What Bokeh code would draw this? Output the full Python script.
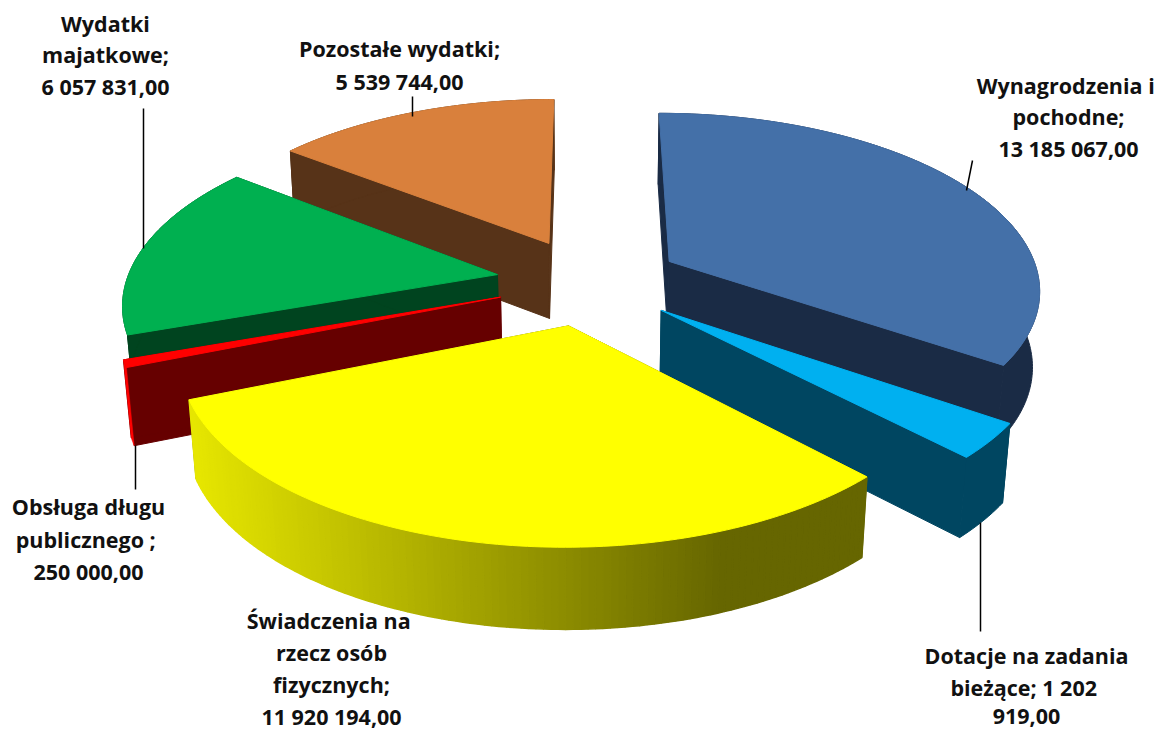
import math
from bokeh.plotting import figure
from bokeh.models import Range1d
from bokeh.core.properties import value
from bokeh.embed import file_html
from bokeh.resources import INLINE

categories = ["Wynagrodzenia i pochodne", "Dotacje na zadania bieżące",
              "Świadczenia na rzecz osób fizycznych", "Obsługa długu publicznego",
              "Wydatki majatkowe", "Pozostałe wydatki"]
amounts = [13185067.00, 1202919.00, 11920194.00, 250000.00, 6057831.00, 5539744.00]
top_colors = ["#4470A8", "#00B0F0", "#FFFF00", "#FF0000", "#00B050", "#D9803C"]
wall_colors = ["#1A2B45", "#004661", "#666600", "#660000", "#00441F", "#573318"]
rim_colors = ["#1A2B45", "#004661", None, "#FF0000", "#00441F", "#573318"]
label_lines = [["Wynagrodzenia  i", "pochodne;", "13 185 067,00"],
               ["Dotacje na zadania", "bieżące;  1 202", "919,00"],
               ["Świadczenia  na", "rzecz osób", "fizycznych;", "11 920 194,00"],
               ["Obsługa długu", "publicznego  ;", "250 000,00"],
               ["Wydatki", "majatkowe;", "6 057 831,00"],
               ["Pozostałe wydatki;", "5 539 744,00"]]
label_x = [1068, 1026, 331, 88, 105, 399]
label_y = [[85, 116, 148], [655, 687, 716], [620, 652, 684, 716], [506, 539, 571], [23, 54, 86], [48, 81]]
leader_x0 = [972, 980, None, 135, 143, 412]
leader_y0 = [160, 522, None, 445, 108, 96]
leader_x1 = [966, 980, None, 135, 143, 412]
leader_y1 = [190, 631, None, 489, 248, 116]

CX, CY, RX, RY, PERSP, PERSP_DEPTH, EXPLODE, DEPTH, SHRINK = 588.0, 281.0, 371.0, 175.0, 0.145, 0.06, 0.25, 76.0, 0.016
DRAW_ORDER = [5, 4, 0, 3, 1, 2]


def project(px, pz, drop=0.0):
    w = 1 + PERSP * pz
    return (CX + RX * px / (w + SHRINK * drop),
            CY - RY * pz / w + drop * DEPTH / (1 + PERSP_DEPTH * pz))


def lerp_yellow(x):
    t = min(1.0, max(0.0, (x - 195) / 525))
    c = round(0xE6 + (0x66 - 0xE6) * t)
    return f"#{c:02X}{c:02X}00"


total = sum(amounts)
xs, ys, colors, widths = [], [], [], []


def add(poly, color, lw=1.0):
    xs.append([q[0] for q in poly])
    ys.append([q[1] for q in poly])
    colors.append(color)
    widths.append(lw)


spans, acc = [], 0.0
for v in amounts:
    a0 = acc / total * 2 * math.pi
    acc += v
    spans.append((a0, acc / total * 2 * math.pi))

for i in DRAW_ORDER:
    a0, a1 = spans[i]
    mid = (a0 + a1) / 2
    ex, ez = EXPLODE * math.sin(mid), EXPLODE * math.cos(mid)
    n = max(4, int((a1 - a0) * 60))
    rim = []
    for k in range(n + 1):
        t = a0 + (a1 - a0) * k / n
        rim.append((ex + math.sin(t), ez + math.cos(t)))
    # radial sides
    add([project(ex, ez), project(*rim[0]), project(*rim[0], 1), project(ex, ez, 1)], wall_colors[i])
    add([project(ex, ez), project(*rim[-1]), project(*rim[-1], 1), project(ex, ez, 1)], wall_colors[i])
    # outer rim
    if i == 2:
        for k in range(n):
            quad = [project(*rim[k]), project(*rim[k + 1]), project(*rim[k + 1], 1), project(*rim[k], 1)]
            add(quad, lerp_yellow(sum(q[0] for q in quad) / 4), 1.5)
    else:
        add([project(*q) for q in rim] + [project(*q, 1) for q in reversed(rim)], rim_colors[i], 0.5 if i == 3 else 1.0)
    # top face
    add([project(ex, ez)] + [project(*q) for q in rim], top_colors[i])

p = figure(width=1168, height=731, output_backend="svg", toolbar_location=None,
           x_range=Range1d(0, 1168), y_range=Range1d(731, 0), min_border=0)
p.axis.visible = False
p.grid.visible = False
p.outline_line_color = None

seg = [j for j in range(len(categories)) if leader_x0[j] is not None]
p.patches(xs, ys, fill_color=colors, line_color=colors, line_width=widths)
p.segment([leader_x0[j] for j in seg], [leader_y0[j] for j in seg],
          [leader_x1[j] for j in seg], [leader_y1[j] for j in seg],
          line_color="black", line_width=1.5)

tx, ty, tt = [], [], []
for j, lines in enumerate(label_lines):
    for y, line in zip(label_y[j], lines):
        tx.append(label_x[j]); ty.append(y); tt.append(line)
p.text(tx, ty, text=tt, text_font=value("Open Sans"), text_font_style="bold",
       text_font_size="21.5px", text_align="center", text_baseline="middle", text_color="#111111")

open("out.html", "w").write(file_html(p, INLINE))
